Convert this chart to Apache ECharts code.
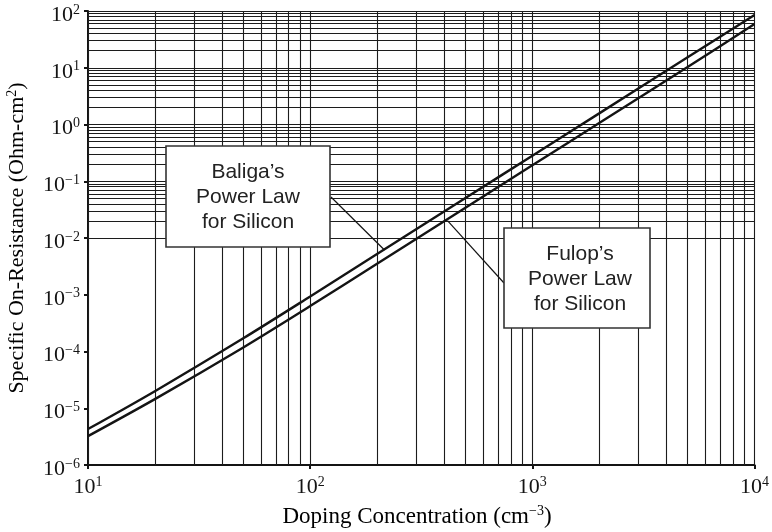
<!DOCTYPE html>
<html>
<head>
<meta charset="utf-8">
<script src="https://cdn.jsdelivr.net/npm/echarts@6/dist/echarts.min.js"></script>
<style>
  html, body { margin: 0; padding: 0; background: #fff; }
  #chart { width: 772px; height: 532px; }
</style>
</head>
<body>
<div id="chart"></div>
<script>
// x values (doping concentration) sampled along the curves
var dopingValues = [10, 20, 50, 100, 200, 500, 1000, 2000, 5000, 10000];
// specific on-resistance
var baligaValues = [4.3e-6, 2.0e-5, 1.71e-4, 9.33e-4, 5.21e-3, 0.0506, 0.282, 1.57, 15.3, 85];
var fulopValues = [3.23e-6, 1.45e-5, 1.18e-4, 6.31e-4, 3.52e-3, 0.0342, 0.191, 1.06, 10.3, 59];

// axis ranges (decade exponents)
var xExpRange = [1, 4];
var yExpRange = [-6, 2];

// where the leader lines touch the curves (data coords)
var baligaAnchor = [216, 6.15e-3];
var fulopAnchor = [415, 0.0202];

var serif = '"Liberation Serif", "DejaVu Serif", serif';
var sans = '"Liberation Sans", Arial, sans-serif';
var ink = '#141414';

function pairs(xs, ys) {
  return xs.map(function (x, i) { return [x, ys[i]]; });
}

// full log grid: 1..9 x each decade
function logGrid(range) {
  var out = [];
  for (var e = range[0]; e < range[1]; e++) {
    for (var k = 1; k <= 9; k++) out.push(+(k * Math.pow(10, e)).toPrecision(6));
  }
  out.push(Math.pow(10, range[1]));
  return out;
}

function powLabel(v) {
  var e = Math.round(Math.log10(v));
  return '{b|10}{s|' + String(e).replace('-', '\u2212') + '}';
}

function titleRich(size) {
  return {
    t: { fontFamily: serif, fontSize: size, lineHeight: size + 2, color: ink },
    s: { fontFamily: serif, fontSize: 14, lineHeight: 14, verticalAlign: 'top', color: ink }
  };
}

var labelRich = {
  b: { fontFamily: serif, fontSize: 22, lineHeight: 24, color: ink },
  s: { fontFamily: serif, fontSize: 14, lineHeight: 14, verticalAlign: 'top', color: ink }
};

var gridLines = [];
logGrid(xExpRange).forEach(function (v) { gridLines.push({ xAxis: v }); });
logGrid(yExpRange).forEach(function (v) { gridLines.push({ yAxis: v }); });

function leader(from, anchor) {
  return {
    silent: true,
    symbol: 'none',
    label: { show: false },
    lineStyle: { color: ink, width: 1.2, type: 'solid' },
    data: [[{ x: from[0], y: from[1] }, { coord: anchor }]]
  };
}

function box(x, y, w, h, text, cx, cy) {
  return {
    type: 'group',
    children: [
      { type: 'rect', z: 100, shape: { x: x, y: y, width: w, height: h },
        style: { fill: '#fff', stroke: '#333', lineWidth: 1.6 } },
      { type: 'text', z: 101, x: cx, y: cy,
        style: { text: text, font: '21px ' + sans, lineHeight: 25, fill: '#222',
                 align: 'center', verticalAlign: 'middle' } }
    ]
  };
}

var chart = echarts.init(document.getElementById('chart'));

chart.setOption({
  animation: false,
  backgroundColor: '#fff',
  grid: { left: 88, right: 16, top: 11, bottom: 67 },
  xAxis: {
    type: 'log',
    logBase: 10,
    min: Math.pow(10, xExpRange[0]),
    max: Math.pow(10, xExpRange[1]),
    axisLine: { lineStyle: { color: ink, width: 2 } },
    axisTick: { show: true, length: 4, lineStyle: { color: ink, width: 2 } },
    splitLine: { show: false },
    axisLabel: { margin: 10, formatter: powLabel, rich: labelRich }
  },
  yAxis: {
    type: 'log',
    logBase: 10,
    min: Math.pow(10, yExpRange[0]),
    max: Math.pow(10, yExpRange[1]),
    axisLine: { lineStyle: { color: ink, width: 2 } },
    axisTick: { show: true, length: 4, lineStyle: { color: ink, width: 2 } },
    splitLine: { show: false },
    axisLabel: { margin: 8, padding: [8, 0, 0, 0], formatter: powLabel, rich: labelRich }
  },
  series: [
    {
      name: 'grid',
      type: 'line',
      data: [],
      z: 1,
      silent: true,
      markLine: {
        silent: true,
        symbol: 'none',
        label: { show: false },
        lineStyle: { color: '#1c1c1c', width: 1.1, type: 'solid' },
        data: gridLines
      }
    },
    {
      name: 'Baliga',
      type: 'line',
      data: pairs(dopingValues, baligaValues),
      showSymbol: false,
      smooth: 0.3,
      z: 5,
      lineStyle: { color: ink, width: 2.4 },
      markLine: leader([331, 197], baligaAnchor)
    },
    {
      name: 'Fulop',
      type: 'line',
      data: pairs(dopingValues, fulopValues),
      showSymbol: false,
      smooth: 0.3,
      z: 5,
      lineStyle: { color: ink, width: 2.4 },
      markLine: leader([504, 283], fulopAnchor)
    }
  ],
  graphic: [
    box(166, 146, 164, 101, 'Baliga\u2019s\nPower Law\nfor Silicon', 248, 197),
    box(504, 228, 146, 100, 'Fulop\u2019s\nPower Law\nfor Silicon', 580, 279),
    {
      type: 'text', x: 417, y: 517, z: 100,
      style: {
        text: '{t|Doping Concentration (cm}{s|\u22123}{t|)}',
        rich: titleRich(23),
        align: 'center', verticalAlign: 'middle'
      }
    },
    {
      type: 'text', x: 17, y: 238, rotation: Math.PI / 2, z: 100,
      style: {
        text: '{t|Specific On-Resistance (Ohm-cm}{s|2}{t|)}',
        rich: titleRich(22),
        align: 'center', verticalAlign: 'middle'
      }
    }
  ]
});

window.addEventListener('resize', function () { chart.resize(); });
</script>
</body>
</html>
